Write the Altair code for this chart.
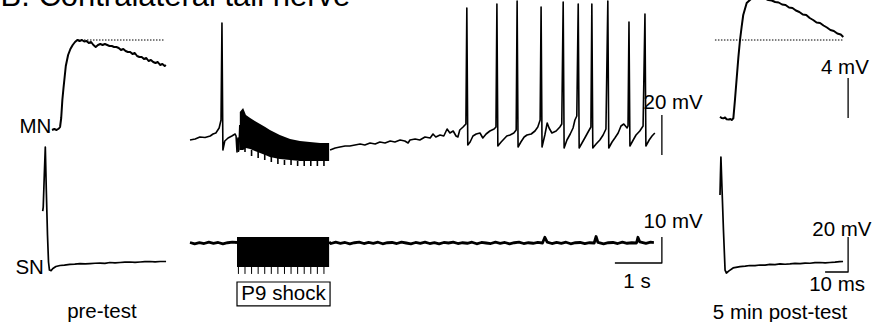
import altair as alt
import pandas as pd

W, H = 885, 322
FONT = "Liberation Sans"

# ---------------- data (time in ms or s, membrane potential in mV) ----------------
# pre-test MN EPSP (ms, mV)
MN_PRE_T = [0, 1, 2, 3, 3.5, 4, 4.5, 5, 5.5, 6, 7, 8, 9, 10, 11, 12, 13, 14, 15, 16, 17, 18, 19, 20,
            21, 22, 23, 24, 25, 26, 27, 28, 29, 30, 31, 32, 33, 34, 35, 36, 37, 38, 39, 40, 41, 42,
            43, 44, 45, 46, 47, 48, 49, 49.5]
MN_PRE_V = [0, 0.1, 0, 0.15, 0.3, 1.2, 3.0, 4.2, 5.3, 6.4, 7.5, 8.1, 8.5, 8.8, 9.0, 8.9, 9.0, 8.85,
            8.9, 8.7, 8.8, 8.5, 8.3, 8.5, 8.6, 8.5, 8.6, 8.5, 8.4, 8.4, 8.3, 8.3, 8.2, 8.0, 8.1, 7.9,
            7.8, 7.8, 7.6, 7.7, 7.4, 7.3, 7.3, 7.1, 7.2, 6.9, 7.0, 6.8, 6.7, 6.8, 6.5, 6.6, 6.4, 6.5]
MN_PRE_REF = 9.0

# pre-test SN spike (ms, mV)
SN_PRE_T = [-1.43, -1.2, -1.1, -0.74, -0.3, 0.13, 0.65, 1.09, 1.5, 2.2, 3.0, 4.3, 6.1, 8, 10.4,
            12.5, 14.8, 17, 19.1, 21.3, 23.5, 25.6, 27.8, 30, 32.2, 34.3, 36.5, 38.7, 40.9, 43,
            45.2, 47.4, 49.6, 52.2]
SN_PRE_V = [29.1, 31.4, 35.4, 49.7, 65.7, 41.1, 15.4, 0, -4.6, -4.9, -3.7, -2.6, -2.0, -1.8, -1.4,
            -1.2, -0.9, -1.1, -0.9, -0.7, -0.6, -0.8, -0.3, -0.5, -0.3, -0.1, 0, -0.2, 0, 0.2,
            0.3, 0.1, 0.3, 0.3]

# middle MN recording (s, mV): before the shock train
MN_MID_T1 = [0, 0.11, 0.21, 0.32, 0.43, 0.49, 0.55, 0.62, 0.66, 0.68, 0.70, 0.74, 0.81, 0.89,
             0.96, 0.98, 1.00, 1.02, 1.04, 1.06]
MN_MID_V1 = [0, 0.5, 1.5, 1.25, 2, 3, 3.5, 6, 10, 58.5, -5, -0.5, 1, 2, 3, 2, -6, 1, -5, 7.5]
# envelope of the stimulus artefacts during the shock train
BAND_T = [1.06, 1.13, 1.19, 1.28, 1.38, 1.49, 1.60, 1.70, 1.91, 2.13, 2.34, 2.55, 2.77, 2.96]
BAND_TOP = [14, 16, 12.5, 11, 9.5, 8, 6.5, 5, 2.5, 0.5, -0.5, -1, -1.5, -1.5]
BAND_BOT = [-5, -5, -4, -4.5, -5.5, -6.5, -7.5, -8.5, -9.5, -10, -10.5, -10.5, -10.5, -10.5]
# artefact troughs, one per shock pulse
ARTEFACT_T = [1.03, 1.17, 1.31, 1.45, 1.59, 1.73, 1.87, 2.01, 2.15, 2.29, 2.43, 2.57, 2.71, 2.85]
ARTEFACT_MIN = [-6, -6, -8, -9, -10, -11, -12, -12.5, -12.5, -13, -13, -13, -13, -13]
ARTEFACT_TOP = [-4, -4, -5, -6, -7, -8, -9, -10, -10, -10.5, -10.5, -10.5, -10.5, -10.5]
# after the shock train
MN_MID_T2 = [2.98, 3.09, 3.19, 3.30, 3.40, 3.51, 3.62, 3.72, 3.83, 3.94,
             4.04, 4.15, 4.26, 4.36, 4.47, 4.57, 4.64, 4.68, 4.79, 4.89,
             5.00, 5.11, 5.17, 5.23, 5.32, 5.40, 5.47, 5.53, 5.60, 5.66,
             5.70, 5.74, 5.81, 5.87, 5.89, 5.91, 5.96, 6.02, 6.09, 6.17,
             6.23, 6.30, 6.38, 6.47, 6.51, 6.53, 6.55, 6.62, 6.68, 6.74,
             6.81, 6.89, 6.94, 6.96, 6.98, 7.04, 7.11, 7.17, 7.26, 7.34,
             7.40, 7.45, 7.47, 7.49, 7.55, 7.60, 7.64, 7.70, 7.79, 7.87,
             7.91, 7.94, 7.96, 8.02, 8.09, 8.15, 8.19, 8.23, 8.26, 8.28,
             8.34, 8.40, 8.47, 8.53, 8.55, 8.57, 8.64, 8.72, 8.79, 8.85,
             8.89, 8.91, 8.98, 9.04, 9.11, 9.17, 9.23, 9.30, 9.32, 9.34,
             9.36, 9.43, 9.49, 9.57, 9.64, 9.68, 9.70, 9.77, 9.83, 9.89]
MN_MID_V2 = [-5, -4, -3.5, -3, -3, -2.5, -2, -2.5, -1.5, -2,
             -1, -1.5, -0.5, -1, 0, -0.5, -1.5, 0, 0.5, 0,
             1.5, 1, 3, 1.5, 2.5, 2, 5.5, 3.5, 4.5, 2,
             1.5, 5, 6.5, 8, 66, -2.5, -1, 2, 3, 3.5,
             1, 3, 4.5, 5.5, 6.5, 68, -3, -1, 0.5, 2,
             2.5, 3.5, 5, 69.5, -3.5, -1, 1.5, 2.5, 3, 4.5,
             6.5, 10, 66.5, -3.5, 2.5, 8.5, 6, 3.5, 4.5, 6.5,
             8, 69, -4, 0, 3, 6, 10, 12, 68, -4,
             -1.5, 1, 4, 6.5, 68, -4, -2, 0, 2.5, 5.5,
             69.5, -4, -1, 1, 3.5, 7, 8, 6, 7, 59,
             -3, 0, 2.5, 4.5, 7, 63, -3, 0, 2, 3.5]

# middle SN recording (s, mV)
SN_MID_T1 = [0, 0.1, 0.2, 0.3, 0.4, 0.5, 0.6, 0.7, 0.8, 0.9, 1.0]
SN_MID_V1 = [0.2, -0.3, 0.1, -0.2, 0.3, -0.1, 0.2, -0.3, 0.1, 0.3, 0.2]
SN_MID_T2 = [2.96, 3.0, 3.1, 3.2, 3.3, 3.4, 3.5, 3.6, 3.7, 3.8, 3.9, 4.0, 4.1, 4.2, 4.3, 4.4, 4.5,
             4.6, 4.7, 4.8, 4.9, 5.0, 5.1, 5.2, 5.3, 5.4, 5.5, 5.6, 5.7, 5.8, 5.9, 6.0, 6.1, 6.2,
             6.3, 6.4, 6.5, 6.6, 6.7, 6.8, 6.9, 7.0, 7.1, 7.2, 7.3, 7.4, 7.5, 7.55, 7.6, 7.7, 7.8,
             7.9, 8.0, 8.1, 8.2, 8.3, 8.4, 8.5, 8.6, 8.64, 8.68, 8.8, 8.9, 9.0, 9.1, 9.2, 9.3,
             9.4, 9.5, 9.53, 9.57, 9.7, 9.8, 9.87]
SN_MID_V2 = [0.3, -0.2, 0.3, -0.1, 0.2, -0.3, 0.1, 0.3, -0.2, 0.2,
             -0.1, 0.3, -0.3, 0.1, 0.2, -0.2, 0.3, 0.0, -0.3, 0.2,
             -0.1, 0.3, -0.2, 0.1, -0.3, 0.2, 0.0, 0.3, -0.2, 0.1,
             -0.1, 0.3, -0.3, 0.2, 0.0, -0.2, 0.3, -0.1, 0.2, -0.3,
             0.1, 0.3, -0.2, 0.1, -0.1, 0.2, 0.0, 2.2, 0.3, -0.2,
             0.2, -0.1, 0.3, -0.3, 0.1, 0.2, -0.2, 0.1, 0.0, 2.5,
             0.2, -0.3, 0.1, 0.2, -0.2, 0.3, -0.1, 0.1, 0.0, 2.2,
             0.4, -0.1, 0.3, 0.1]
SHOCK_START, SHOCK_END = 1.0, 2.96
SHOCK_TOP, SHOCK_BOT, SHOCK_TICK = 2.3, -9.2, -11.9
SHOCK_PULSES = [1.03, 1.17, 1.31, 1.45, 1.59, 1.73, 1.87, 2.01, 2.15, 2.29, 2.43, 2.57, 2.71, 2.85]

# post-test MN EPSP (ms, mV)
MN_POST_T = [0, 0.7, 1.43, 2.2, 2.9, 3.9, 4.5, 5.1, 5.8, 6.5, 7.3, 8.0, 8.7, 9.4, 10.1, 11.6, 13.0,
             14.0, 15.2, 16.5, 18.3, 19.5, 21, 22.5, 24, 25.5, 27, 28.5, 30, 31.5, 33, 34.5, 36,
             37.5, 39, 40.5, 42, 43.5, 45, 46.5, 48, 49.5, 51, 52.5, 53.6]
MN_POST_V = [0.13, 0.0, -0.03, 0.05, -0.13, -0.15, -0.1, -0.2, -0.03, 1.8, 4.1, 6.1, 7.8, 9.1,
             10.3, 11.5, 11.8, 12.0, 12.1, 12.0, 11.9, 11.95, 11.8, 11.75, 11.6, 11.55, 11.35, 11.3,
             11.05, 11.0, 10.75, 10.6, 10.35, 10.3, 10.0, 9.8, 9.55, 9.5, 9.25, 9.05, 8.8, 8.7,
             8.45, 8.35, 8.1]
MN_POST_REF = 7.8

# post-test SN spike (ms, mV)
SN_POST_T = [0, 0.2, 0.4, 0.9, 1.5, 2.2, 2.8, 3.9, 5.7, 8.7, 11, 13, 15.2, 17.4, 19.6, 21.7, 23.9,
             26.1, 28.3, 30.4, 32.6, 34.8, 37, 39.1, 41.3, 43.5, 45.7, 47.8, 50, 52, 53.5]
SN_POST_V = [38.3, 49.7, 60, 41, 18.3, -4.6, -6.3, -5.1, -3.4, -2.6, -2.4, -2.0, -2.1, -1.7, -1.8,
             -1.4, -1.5, -1.1, -1.3, -1.1, -0.8, -0.9, -0.6, -0.7, -0.4, -0.3, -0.5, -0.3, -0.1,
             0.2, 0.3]

# ---------------- layout: pixel of t=0, px per time unit, pixel of v=0, px per mV ----------------
PANELS = {
    "mn_pre": (52, 2.3, 130, 10.0),
    "sn_pre": (46, 2.3, 262, 1.75),
    "mn_mid": (190, 47.0, 140, 2.0),
    "sn_mid": (190, 47.0, 243, 2.6),
    "mn_post": (720, 2.3, 118, 10.0),
    "sn_post": (720, 2.3, 262, 1.75),
}
LABEL_SIZE = 20.5


def xy(panel, xf="t", yf="v"):
    x0, sx, y0, sy = PANELS[panel]
    xs = alt.Scale(domain=[-x0 / sx, (W - x0) / sx], nice=False, zero=False)
    ys = alt.Scale(domain=[(y0 - H) / sy, y0 / sy], nice=False, zero=False)
    return dict(x=alt.X(f"{xf}:Q", scale=xs, axis=None),
                y=alt.Y(f"{yf}:Q", scale=ys, axis=None))


def trace(panel, ts, vs, width=1.5, dash=None):
    df = pd.DataFrame({"t": ts, "v": vs, "i": list(range(len(ts)))})
    kw = dict(color="black", strokeWidth=width, strokeJoin="round")
    if dash:
        kw["strokeDash"] = dash
    return alt.Chart(df).mark_line(**kw).encode(order="i:Q", **xy(panel))


def label(panel, text, t, v, size=LABEL_SIZE, align="center", baseline="middle"):
    df = pd.DataFrame({"t": [t], "v": [v], "s": [text]})
    return alt.Chart(df).mark_text(font=FONT, fontSize=size, align=align, baseline=baseline,
                                   color="black").encode(text="s:N", **xy(panel))


def box(panel, t1, t2, v1, v2, fill, stroke=None):
    df = pd.DataFrame({"t": [t1], "t2": [t2], "v": [v1], "v2": [v2]})
    kw = dict(fill=fill)
    if stroke:
        kw.update(stroke=stroke, strokeWidth=1.2)
    return alt.Chart(df).mark_rect(**kw).encode(x2="t2:Q", y2="v2:Q", **xy(panel))


def ticks(panel, ts, v1s, v2s, width=1.0):
    df = pd.DataFrame({"t": ts, "v": v1s, "v2": v2s})
    return alt.Chart(df).mark_rule(color="black", strokeWidth=width).encode(y2="v2:Q", **xy(panel))


layers = []
# pre-test
layers.append(trace("mn_pre", MN_PRE_T, MN_PRE_V, width=2.0))
layers.append(trace("mn_pre", [11.3, 49], [MN_PRE_REF, MN_PRE_REF], width=1, dash=[1.5, 1.5]))
layers.append(trace("sn_pre", SN_PRE_T, SN_PRE_V, width=1.7))

# middle MN
layers.append(trace("mn_mid", MN_MID_T1, MN_MID_V1, width=1.6))
band = pd.DataFrame({"t": BAND_T, "top": BAND_TOP, "bot": BAND_BOT})
enc = xy("mn_mid", yf="top")
layers.append(alt.Chart(band).mark_area(color="black").encode(y2="bot:Q", **enc))
layers.append(ticks("mn_mid", ARTEFACT_T, ARTEFACT_TOP, ARTEFACT_MIN, width=1.6))
layers.append(trace("mn_mid", MN_MID_T2, MN_MID_V2, width=1.6))
layers.append(trace("mn_mid", [10.04, 10.04], [-7.5, 12.5], width=1.3))

# middle SN
layers.append(trace("sn_mid", SN_MID_T1, SN_MID_V1, width=2.8))
layers.append(trace("sn_mid", SN_MID_T2, SN_MID_V2, width=2.8))
layers.append(box("sn_mid", SHOCK_START, SHOCK_END, SHOCK_TOP, SHOCK_BOT, "black"))
layers.append(ticks("sn_mid", SHOCK_PULSES, [SHOCK_BOT] * len(SHOCK_PULSES),
                    [SHOCK_TICK] * len(SHOCK_PULSES)))
layers.append(trace("sn_mid", [9.04, 10.04, 10.04], [-7.7, -7.7, 2.3], width=1.3))
layers.append(box("sn_mid", 1.0, 2.98, -15.0, -24.2, "white", stroke="black"))

# post-test
layers.append(trace("mn_post", MN_POST_T, MN_POST_V, width=2.0))
layers.append(trace("mn_post", [-2.2, 53.5], [MN_POST_REF, MN_POST_REF], width=1, dash=[1.5, 1.5]))
layers.append(trace("mn_post", [55.7, 55.7], [0, 4], width=1.3))
layers.append(trace("sn_post", SN_POST_T, SN_POST_V, width=1.7))
layers.append(trace("sn_post", [45.7, 55.7, 55.7], [-5.7, -5.7, 14.3], width=1.3))

# text
layers.append(label("mn_pre", "B. Contralateral tail nerve", -22.4, 12.4, size=31, align="left",
                    baseline="alphabetic"))
layers.append(label("mn_pre", "MN", -0.3, 0.3, align="right"))
layers.append(label("sn_pre", "SN", -0.9, -3.4, align="right"))
layers.append(label("sn_pre", "pre-test", 24.3, -28.6))
layers.append(label("mn_mid", "20 mV", 10.28, 18.5))
layers.append(label("sn_mid", "10 mV", 10.28, 8.1))
layers.append(label("sn_mid", "1 s", 9.51, -15.0))
layers.append(label("sn_mid", "P9 shock", 1.99, -19.6))
layers.append(label("mn_post", "4 mV", 54.3, 5.0))
layers.append(label("sn_post", "20 mV", 53.0, 18.3))
layers.append(label("sn_post", "10 ms", 50.9, -13.1))
layers.append(label("sn_post", "5 min post-test", 26.1, -29.1))

chart = (
    alt.layer(*layers)
    .resolve_scale(x="independent", y="independent")
    .properties(width=W, height=H, padding=0, autosize=alt.AutoSizeParams(type="none"),
                background="white")
    .configure_view(stroke=None)
)

chart.save("out.html", embed_options={"renderer": "svg", "actions": False})
